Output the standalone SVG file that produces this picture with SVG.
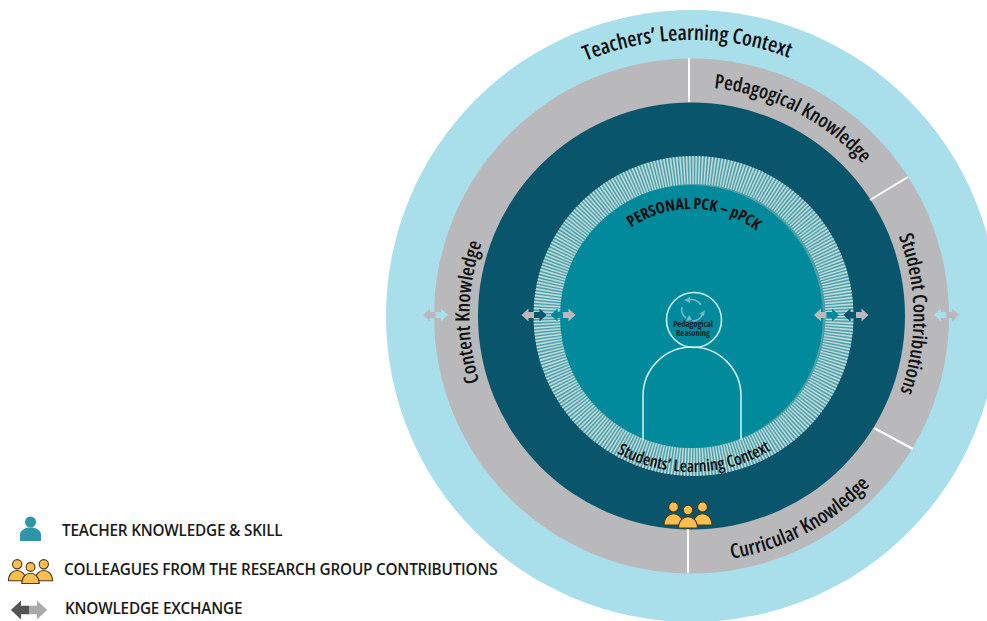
<svg xmlns="http://www.w3.org/2000/svg" width="987" height="621" viewBox="0 0 987 621">
<style>
text{font-family:"Open Sans","Noto Sans","Liberation Sans",sans-serif;fill:#111;font-stretch:75%}
.r{font-weight:600;text-anchor:middle}
.leg{font-weight:600;font-size:15.300px;fill:#1a1a1a;font-stretch:100%;letter-spacing:-.2px}
.div{stroke:#fff;stroke-width:2;fill:none}
.y{fill:#fbbf4f;stroke:#4a3a1c;stroke-width:1.2}
.gy{fill:#b9b9bb}.bl{fill:#a9dfeb}.dk{fill:#08556c}.te{fill:#008a9b}
.ln{fill:none;stroke:#cdeef2;stroke-width:1.6}
.cy{fill:none;stroke:#6dbcc6;stroke-width:1.6}
.cyh{fill:#6dbcc6}
</style>
<defs>
<path id="t276" d="M415.500 316A276 276 0 0 1 967.500 316"/>
<path id="t229" d="M462.500 316A229 229 0 0 1 920.500 316"/>
<path id="t222" d="M469.500 316A222 222 0 0 1 913.500 316"/>
<path id="t107" d="M584.500 316A107 107 0 0 1 798.500 316"/>
<path id="b246" d="M445.500 316A246 246 0 0 0 937.500 316"/>
<path id="b156" d="M535.500 316A156 156 0 0 0 847.500 316"/>
<path id="hl" d="M-12.500 0L-5.500 -6.500V-3H0V3H-5.500V6.500Z"/>
<path id="hr" d="M12.500 0L5.500 -6.500V-3H0V3H5.500V6.500Z"/>
<g id="grp">
<path class="y" d="M-24 15C-24 0 -5 0 -5 15Z"/>
<path class="y" d="M24 15C24 0 5 0 5 15Z"/>
<circle class="y" cx="-14.500" cy="-3" r="5"/>
<circle class="y" cx="14.500" cy="-3" r="5"/>
<path class="y" d="M-9.500 18C-9.500 3 9.500 3 9.500 18Z"/>
<circle class="y" cx="0" cy="0" r="4.800"/>
</g>
</defs>
<g id="teachers-learning-context">
<circle class="bl" cx="692" cy="316" r="306"/>
<text class="r" font-size="21.200"><textPath href="#t276" startOffset="49.500%">Teachers’ Learning Context</textPath></text>
</g>
<g id="knowledge-ring">
<circle class="gy" cx="691.500" cy="316" r="257.500"/>
<circle class="dk" cx="691.500" cy="316" r="213.500"/>
<path class="div" d="M689 58V102M870 200L908 177M874 428L913 449M688 529V573"/>
</g>
<g id="pedagogical-knowledge" transform="rotate(27 691.500 316)">
<text class="r" font-size="19.800"><textPath href="#t229" startOffset="50%">Pedagogical Knowledge</textPath></text>
</g>
<g id="student-contributions" transform="rotate(89.500 691.500 316)">
<text class="r" font-size="19.800"><textPath href="#t222" startOffset="50%">Student Contributions</textPath></text>
</g>
<g id="curricular-knowledge" transform="rotate(-28 691.500 316)">
<text class="r" font-size="20.300"><textPath href="#b246" startOffset="50%">Curricular Knowledge</textPath></text>
</g>
<g id="content-knowledge" transform="rotate(-89 691.500 316)">
<text class="r" font-size="19.800"><textPath href="#t222" startOffset="50%">Content Knowledge</textPath></text>
</g>
<g id="students-learning-context">
<circle cx="693.500" cy="316" r="160" fill="#4f9fa8"/>
<circle cx="693.500" cy="316" r="146" fill="none" stroke="#bfdcdf" stroke-width="28" stroke-dasharray="1.500 1.498"/>
<circle class="te" cx="691.500" cy="316.500" r="131.500"/>
<text class="r" font-size="16.500" transform="rotate(-1 691.500 316)"><textPath href="#b156" startOffset="50%">Students’ Learning Context</textPath></text>
</g>
<g id="personal-pck">
<text class="r" font-size="15.700" style="font-weight:700" transform="rotate(1.500 691.500 316)"><textPath href="#t107" startOffset="50%">PERSONAL PCK – pPCK</textPath></text>
<path class="ln" d="M643 440V396A49 49 0 0 1 741 396V440"/>
</g>
<g id="pedagogical-reasoning">
<circle class="ln" cx="694" cy="320" r="27.500"/>
<path class="cy" d="M688 300A11 11 0 0 1 701 305M703 313A11 11 0 0 1 692 321M686 318A11 11 0 0 1 682 307"/>
<path class="cyh" d="M684 300L690 297V303ZM704 316L699 314L705 310ZM686 321L689 315L692 320Z"/>
<text text-anchor="middle" font-size="8.500" style="font-weight:700;fill:#06222e"><tspan x="693" y="326.500">Pedagogical</tspan><tspan x="693" y="336">Reasoning</tspan></text>
</g>
<g id="colleagues-icon"><use href="#grp" transform="translate(688 510)"/></g>
<g id="connectors">
<g transform="translate(435.500 315)"><use href="#hl" class="gy"/><use href="#hr" class="bl"/></g>
<g transform="translate(534 315)"><use href="#hl" class="gy"/><use href="#hr" class="dk"/></g>
<g transform="translate(563 315)"><use href="#hl" class="te"/><use href="#hr" class="gy"/></g>
<g transform="translate(826.500 315)"><use href="#hl" class="gy"/><use href="#hr" class="te"/></g>
<g transform="translate(856 315)"><use href="#hl" class="dk"/><use href="#hr" class="gy"/></g>
<g transform="translate(946.500 315)"><use href="#hl" class="bl"/><use href="#hr" class="gy"/></g>
</g>
<g id="legend-teacher">
<circle cx="30.500" cy="522" r="5.500" fill="#2e95a8"/>
<path d="M20 541V535C20 525 41 525 41 535V541Z" fill="#2e95a8"/>
<text class="leg" x="62" y="536">TEACHER KNOWLEDGE &amp; SKILL</text>
</g>
<g id="legend-colleagues">
<use href="#grp" transform="translate(30.500 567) scale(.92)"/>
<text class="leg" x="64" y="575">COLLEAGUES FROM THE RESEARCH GROUP CONTRIBUTIONS</text>
</g>
<g id="legend-exchange">
<g transform="translate(29 610) scale(1.450)"><use href="#hl" fill="#555"/><use href="#hr" fill="#aaa"/></g>
<text class="leg" x="65" y="613.500">KNOWLEDGE EXCHANGE</text>
</g>
</svg>
